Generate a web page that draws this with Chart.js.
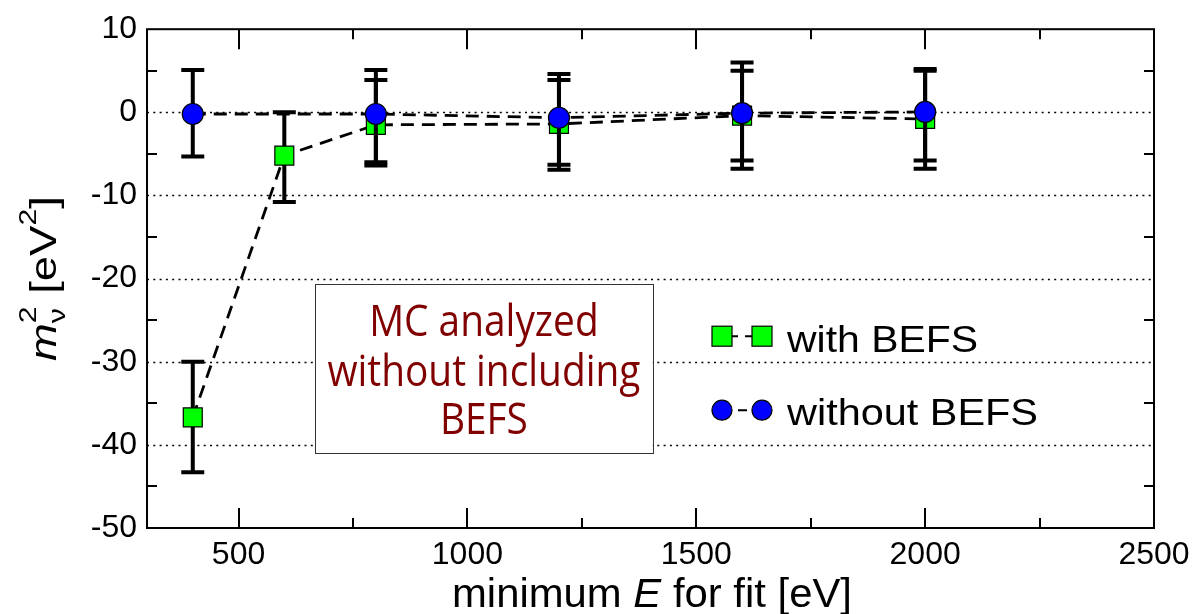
<!DOCTYPE html>
<html>
<head>
<meta charset="utf-8">
<script src="https://cdn.jsdelivr.net/npm/chart.js@4.4.1/dist/chart.umd.min.js"></script>
<style>
  html, body { margin: 0; padding: 0; background: #fff; }
  canvas { display: block; }
</style>
</head>
<body>
<canvas id="chart" width="1198" height="614"></canvas>
<script>
// values
const energyWith = [400, 600, 800, 1200, 1600, 2000];
const mWith = [-36.7, -5.2, -1.5, -1.4, -0.4, -0.8];
const mWithHi = [-30.0, 0.0, 3.9, 3.9, 5.0, 5.0];
const mWithLo = [-43.3, -10.8, -6.4, -6.9, -6.8, -6.8];

const energyWithout = [400, 800, 1200, 1600, 2000];
const mWithout = [-0.2, -0.2, -0.65, -0.1, 0.05];
const mWithoutHi = [5.1, 5.1, 4.6, 6.0, 5.2];
const mWithoutLo = [-5.3, -6.0, -6.3, -5.8, -5.8];

const xTicks = [500, 1000, 1500, 2000, 2500];
const xMinorTicks = [750, 1250, 1750, 2250];
const yTicks = [10, 0, -10, -20, -30, -40, -50];
const yMinorTicks = [5, -5, -15, -25, -35, -45];
const gridLines = [0, -10, -20, -30, -40];
const noteLines = ['MC analyzed', 'without including', 'BEFS'];
const legendLabels = ['with BEFS', 'without BEFS'];

const toPoints = (xs, ys) => xs.map((x, i) => ({ x: x, y: ys[i] }));

// draw a run of text pieces, squeezed/stretched to a given width
function drawRich(ctx, parts, x, y, width, align) {
  let total = 0;
  const widths = parts.map(p => {
    ctx.font = p.font;
    const w = ctx.measureText(p.t).width;
    if (!p.noAdvance) total += w;
    return w;
  });
  const s = width ? width / total : 1;
  ctx.save();
  ctx.translate(x, y);
  ctx.scale(s, 1);
  let pos = align === 'center' ? -total / 2 : 0;
  ctx.textAlign = 'left';
  ctx.textBaseline = 'alphabetic';
  parts.forEach((p, i) => {
    ctx.font = p.font;
    ctx.fillText(p.t, pos, p.dy || 0);
    if (!p.noAdvance) pos += widths[i];
  });
  ctx.restore();
}

const errorBars = {
  id: 'errorBars',
  beforeDatasetDraw(chart, args) {
    const ds = chart.data.datasets[args.index];
    if (!ds.errLo) return;
    const ctx = chart.ctx;
    const xs = chart.scales.x, ys = chart.scales.y;
    ctx.save();
    ctx.strokeStyle = '#000';
    ctx.lineWidth = 4;
    ctx.lineCap = 'butt';
    ds.data.forEach((p, i) => {
      const px = xs.getPixelForValue(p.x);
      const lo = ys.getPixelForValue(ds.errLo[i]);
      const hi = ys.getPixelForValue(ds.errHi[i]);
      ctx.beginPath();
      ctx.moveTo(px, lo); ctx.lineTo(px, hi);
      ctx.moveTo(px - 11.5, lo); ctx.lineTo(px + 11.5, lo);
      ctx.moveTo(px - 11.5, hi); ctx.lineTo(px + 11.5, hi);
      ctx.stroke();
    });
    ctx.restore();
  }
};

const frame = {
  id: 'frame',
  beforeDatasetsDraw(chart) {
    const { ctx, chartArea: a } = chart;
    const ys = chart.scales.y;
    ctx.save();
    ctx.strokeStyle = '#000';
    ctx.lineWidth = 1.5;
    ctx.setLineDash([2, 4.3]);
    gridLines.forEach(v => {
      const py = Math.round(ys.getPixelForValue(v)) + 0.5;
      ctx.beginPath(); ctx.moveTo(a.left, py); ctx.lineTo(a.right, py); ctx.stroke();
    });
    ctx.restore();

    // note box
    const xs = chart.scales.x;
    const bx0 = xs.getPixelForValue(667), bx1 = xs.getPixelForValue(1405);
    const by0 = ys.getPixelForValue(-20.7), by1 = ys.getPixelForValue(-41.0);
    ctx.save();
    ctx.fillStyle = '#fff';
    ctx.fillRect(bx0, by0, bx1 - bx0, by1 - by0);
    ctx.strokeStyle = '#333';
    ctx.lineWidth = 1;
    ctx.strokeRect(Math.round(bx0) + 0.5, Math.round(by0) + 0.5, Math.round(bx1 - bx0), Math.round(by1 - by0));
    ctx.fillStyle = '#800000';
    const f = '44px "Open Sans"';
    ctx.font = f;
    const sc = 313 / ctx.measureText(noteLines[1]).width;
    const cx = (bx0 + bx1) / 2;
    [52, 102, 150].forEach((off, i) => {
      ctx.font = f;
      const w = ctx.measureText(noteLines[i]).width * sc;
      drawRich(ctx, [{ t: noteLines[i], font: f }], cx, by0 + off, w, 'center');
    });
    ctx.restore();
  },
  afterDraw(chart) {
    const { ctx, chartArea: a } = chart;
    const xs = chart.scales.x, ys = chart.scales.y;
    ctx.save();
    ctx.strokeStyle = '#000';
    ctx.lineWidth = 2;
    ctx.strokeRect(a.left, a.top, a.right - a.left, a.bottom - a.top);
    ctx.beginPath();
    xTicks.concat(xMinorTicks).forEach(v => {
      const len = xTicks.includes(v) ? 20 : 10;
      const px = Math.round(xs.getPixelForValue(v));
      ctx.moveTo(px, a.bottom); ctx.lineTo(px, a.bottom - len);
      ctx.moveTo(px, a.top); ctx.lineTo(px, a.top + len);
    });
    yMinorTicks.forEach(v => {
      const py = Math.round(ys.getPixelForValue(v));
      ctx.moveTo(a.left, py); ctx.lineTo(a.left + 10, py);
      ctx.moveTo(a.right, py); ctx.lineTo(a.right - 10, py);
    });
    ctx.stroke();

    // legend
    const lx = a.left + 575;
    const rows = [a.top + 307, a.top + 381];
    ctx.lineWidth = 2;
    ctx.beginPath();
    ctx.moveTo(lx + 10, rows[0]); ctx.lineTo(lx + 16, rows[0]);
    ctx.moveTo(lx + 23, rows[0]); ctx.lineTo(lx + 30, rows[0]);
    ctx.moveTo(lx + 16, rows[1]); ctx.lineTo(lx + 25, rows[1]);
    ctx.stroke();
    ctx.lineWidth = 1.2;
    [lx - 10, lx + 30].forEach(mx => {
      ctx.fillStyle = '#00ff00';
      ctx.fillRect(mx, rows[0] - 10, 20, 20);
      ctx.strokeRect(mx, rows[0] - 10, 20, 20);
      ctx.fillStyle = '#0000ff';
      ctx.beginPath();
      ctx.arc(mx + 10, rows[1], 10, 0, Math.PI * 2);
      ctx.fill(); ctx.stroke();
    });
    ctx.fillStyle = '#000';
    drawRich(ctx, [{ t: legendLabels[0], font: '37px "Liberation Sans"' }], lx + 65, rows[0] + 16, 191, 'left');
    drawRich(ctx, [{ t: legendLabels[1], font: '37px "Liberation Sans"' }], lx + 65, rows[1] + 15, 251, 'left');

    // x title
    const nf = '40px "Liberation Sans"', itf = 'italic 40px "Liberation Sans"';
    drawRich(ctx, [
      { t: 'minimum ', font: nf }, { t: 'E', font: itf }, { t: ' for fit [eV]', font: nf }
    ], 652, 607, 400, 'center');

    // y title
    ctx.translate(56, (a.top + a.bottom) / 2);
    ctx.rotate(-Math.PI / 2);
    const yf = '36px "Liberation Sans"', yi = 'italic 36px "Liberation Sans"', ys2 = '24px "Liberation Sans"';
    drawRich(ctx, [
      { t: 'm', font: yi },
      { t: '\u03bd', font: ys2, dy: 9, noAdvance: true },
      { t: '2', font: ys2, dy: -20 },
      { t: ' [eV', font: yf },
      { t: '2', font: ys2, dy: -20 },
      { t: ']', font: yf }
    ], 0, 0, 165, 'center');
    ctx.restore();
  }
};

new Chart(document.getElementById('chart'), {
  type: 'scatter',
  data: {
    datasets: [
      {
        label: legendLabels[1],
        data: toPoints(energyWithout, mWithout),
        errLo: mWithoutLo,
        errHi: mWithoutHi,
        showLine: true,
        borderColor: '#000',
        borderWidth: 2.8,
        borderDash: [13, 8],
        pointStyle: 'circle',
        pointRadius: 10.5,
        pointBackgroundColor: '#0000ff',
        pointBorderColor: '#000',
        pointBorderWidth: 1.2,
        order: 0,
        clip: false
      },
      {
        label: legendLabels[0],
        data: toPoints(energyWith, mWith),
        errLo: mWithLo,
        errHi: mWithHi,
        showLine: true,
        borderColor: '#000',
        borderWidth: 2.8,
        borderDash: [13, 8],
        pointStyle: 'rect',
        pointRadius: 13.4,
        pointBackgroundColor: '#00ff00',
        pointBorderColor: '#000',
        pointBorderWidth: 1.2,
        order: 1,
        clip: false
      }
    ]
  },
  options: {
    responsive: false,
    animation: false,
    layout: { padding: { top: 26, right: 44, left: 0, bottom: 0 } },
    plugins: { legend: { display: false }, tooltip: { enabled: false } },
    scales: {
      x: {
        type: 'linear',
        min: 300,
        max: 2500,
        afterBuildTicks: s => { s.ticks = xTicks.map(v => ({ value: v })); },
        afterFit: s => { s.height = 86; },
        grid: { display: false, drawTicks: false },
        border: { display: false },
        ticks: {
          color: '#000',
          padding: 8,
          maxRotation: 0,
          font: { family: '"Liberation Sans"', size: 32 },
          callback: v => String(v)
        }
      },
      y: {
        type: 'linear',
        min: -50,
        max: 10,
        afterBuildTicks: s => { s.ticks = yTicks.map(v => ({ value: v })); },
        afterFit: s => { s.width = 147; },
        grid: { display: false, drawTicks: false },
        border: { display: false },
        ticks: {
          color: '#000',
          padding: 10,
          font: { family: '"Liberation Sans"', size: 32 },
          callback: v => String(v)
        }
      }
    }
  },
  plugins: [errorBars, frame]
});
</script>
</body>
</html>
